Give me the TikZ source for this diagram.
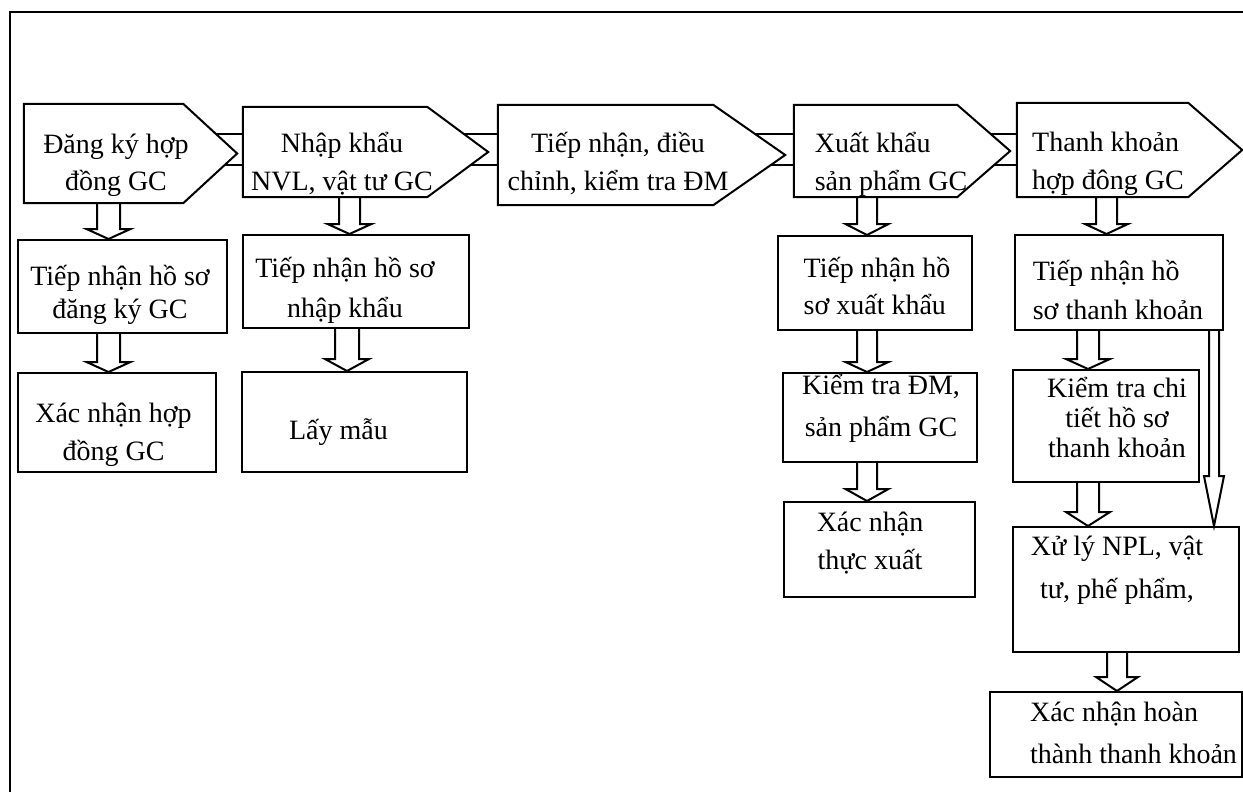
\documentclass[tikz,border=0pt]{standalone}
\usepackage{fontspec}
\setmainfont{Liberation Serif}
\usetikzlibrary{calc,backgrounds}

% hollow block arrow pointing down: from, to, x, shaft half, head half, head length
\newcommand\hollowdown[6]{%
  \draw[arrline] let \p1=(#1.south), \p2=(#2.north) in
    ({(#3-#4)*1pt},\y1) -- ({(#3-#4)*1pt},{\y2+#6*1pt})
    -- ({(#3-#5)*1pt},{\y2+#6*1pt}) -- ({#3*1pt},\y2)
    -- ({(#3+#5)*1pt},{\y2+#6*1pt}) -- ({(#3+#4)*1pt},{\y2+#6*1pt})
    -- ({(#3+#4)*1pt},\y1);
}

\tikzset{
  boxline/.style={draw, line width=2pt},
  box/.style={boxline, inner sep=0pt},
  body/.style={inner sep=0pt},
  txt/.style={font=\fontsize{28}{#1}\selectfont, align=center, inner sep=0pt},
  txt/.default=38,
  txtl/.style={txt=#1, align=left},
  txtl/.default=38,
  arrline/.style={line width=2pt},
  frame/.style={line width=2.4pt},
}

\begin{document}
\begin{tikzpicture}[x=1pt,y=-1pt]
\useasboundingbox (0,0) rectangle (1243,792);
\draw[frame] (10,792) |- (1243,12);

% top row
\node[body, minimum width=159pt, minimum height=99pt,
  label={[txt=37, shift={(12.5,11.5)}]center:{Đăng ký hợp\\đồng GC}}] (reg) at (103.5,153.5) {};
\node[body, minimum width=184pt, minimum height=90pt,
  label={[txt, shift={(7,12)}]center:{Nhập khẩu\\NVL, vật tư GC}}] (imp) at (335,152) {};
\node[body, minimum width=215pt, minimum height=100pt,
  label={[txt, shift={(12.5,9)}]center:{Tiếp nhận, điều\\chỉnh, kiểm tra ĐM}}] (tie) at (605.5,155) {};
\node[body, minimum width=163pt, minimum height=92pt,
  label={[txtl, shift={(15.5,13)}]center:{Xuất khẩu\\sản phẩm GC}}] (exp) at (875.5,151) {};
\node[body, minimum width=171pt, minimum height=94pt,
  label={[txtl, shift={(5.5,14)}]center:{Thanh khoản\\hợp đông GC}}] (liq) at (1102.5,150) {};

\begin{scope}[on background layer]
  \foreach \a/\b in {reg/imp,imp/tie,tie/exp,exp/liq}
    \draw[boxline] (\a.east |- 0,134) rectangle (\b.west |- 0,165);
  \foreach \n/\d in {reg/54,imp/61,tie/72,exp/53,liq/54}
    \draw[boxline, fill=white] (\n.north west) -- (\n.north east) -- ([xshift=\d]\n.east)
      -- (\n.south east) -- (\n.south west) -- cycle;
\end{scope}

% column 1
\node[box, minimum width=209pt, minimum height=93pt,
  label={[txt=33, shift={(-2.5,8.5)}]center:{Tiếp nhận hồ sơ\\đăng ký GC}}] (rc1) at (122.5,286.5) {};
\node[box, minimum width=198pt, minimum height=99pt,
  label={[txt, shift={(-3.5,12)}]center:{Xác nhận hợp\\đồng GC}}] (cf1) at (117,422.5) {};

% column 2
\node[box, minimum width=226pt, minimum height=93pt,
  label={[txt=40, shift={(-11,9)}]center:{Tiếp nhận hồ sơ\\nhập khẩu}}] (rc2) at (356,281.5) {};
\node[box, minimum width=225pt, minimum height=100pt,
  label={[txt, shift={(-16,10.5)}]center:{Lấy mẫu}}] (smp) at (354.5,422) {};

% column 4
\node[box, minimum width=194pt, minimum height=94pt,
  label={[txtl=37, shift={(2,2.5)}]center:{Tiếp nhận hồ\\sơ xuất khẩu}}] (rc4) at (875,283) {};
\node[box, minimum width=194pt, minimum height=89pt,
  label={[txt=42, shift={(1,-9.5)}]center:{Kiểm tra ĐM,\\sản phẩm GC}}] (chk4) at (880,417.5) {};
\node[box, minimum width=191pt, minimum height=95pt,
  label={[txt, shift={(-9.5,-6.5)}]center:{Xác nhận\\thực xuất}}] (cfx) at (879.5,549.5) {};

% column 5
\node[box, minimum width=208pt, minimum height=95pt,
  label={[txtl=39, shift={(-1,7)}]center:{Tiếp nhận hồ\\sơ thanh khoản}}] (rc5) at (1119,282.5) {};
\node[box, minimum width=186pt, minimum height=112pt,
  label={[txt=30, shift={(11,-9)}]center:{Kiểm tra chi\\tiết hồ sơ\\thanh khoản}}] (chk5) at (1106,426) {};
\node[box, minimum width=226pt, minimum height=125pt,
  label={[txt=43, shift={(-9,-19)}]center:{Xử lý NPL, vật\\tư, phế phẩm,}}] (npl) at (1126,589.5) {};
\node[box, minimum width=252pt, minimum height=85pt,
  label={[txtl=42, shift={(17.5,-1.5)}]center:{Xác nhận hoàn\\thành thanh khoản}}] (cfl) at (1116,734.5) {};

% arrows
\hollowdown{reg}{rc1}{108.5}{11.5}{22}{10}
\hollowdown{rc1}{cf1}{108.5}{11.5}{22}{10}
\hollowdown{imp}{rc2}{349.5}{10.5}{22}{10}
\hollowdown{rc2}{smp}{347}{12}{22}{12}
\hollowdown{exp}{rc4}{867}{10}{21.5}{11}
\hollowdown{rc4}{chk4}{867}{10}{21.5}{10}
\hollowdown{chk4}{cfx}{867}{10}{21.5}{12}
\hollowdown{liq}{rc5}{1106.5}{10.5}{21.5}{10}
\hollowdown{rc5}{chk5}{1088}{11}{22}{10}
\hollowdown{chk5}{npl}{1088}{11}{22}{14}
\hollowdown{rc5}{npl}{1214}{5}{10}{50}
\hollowdown{npl}{cfl}{1117}{10}{21}{14}
\end{tikzpicture}
\end{document}
